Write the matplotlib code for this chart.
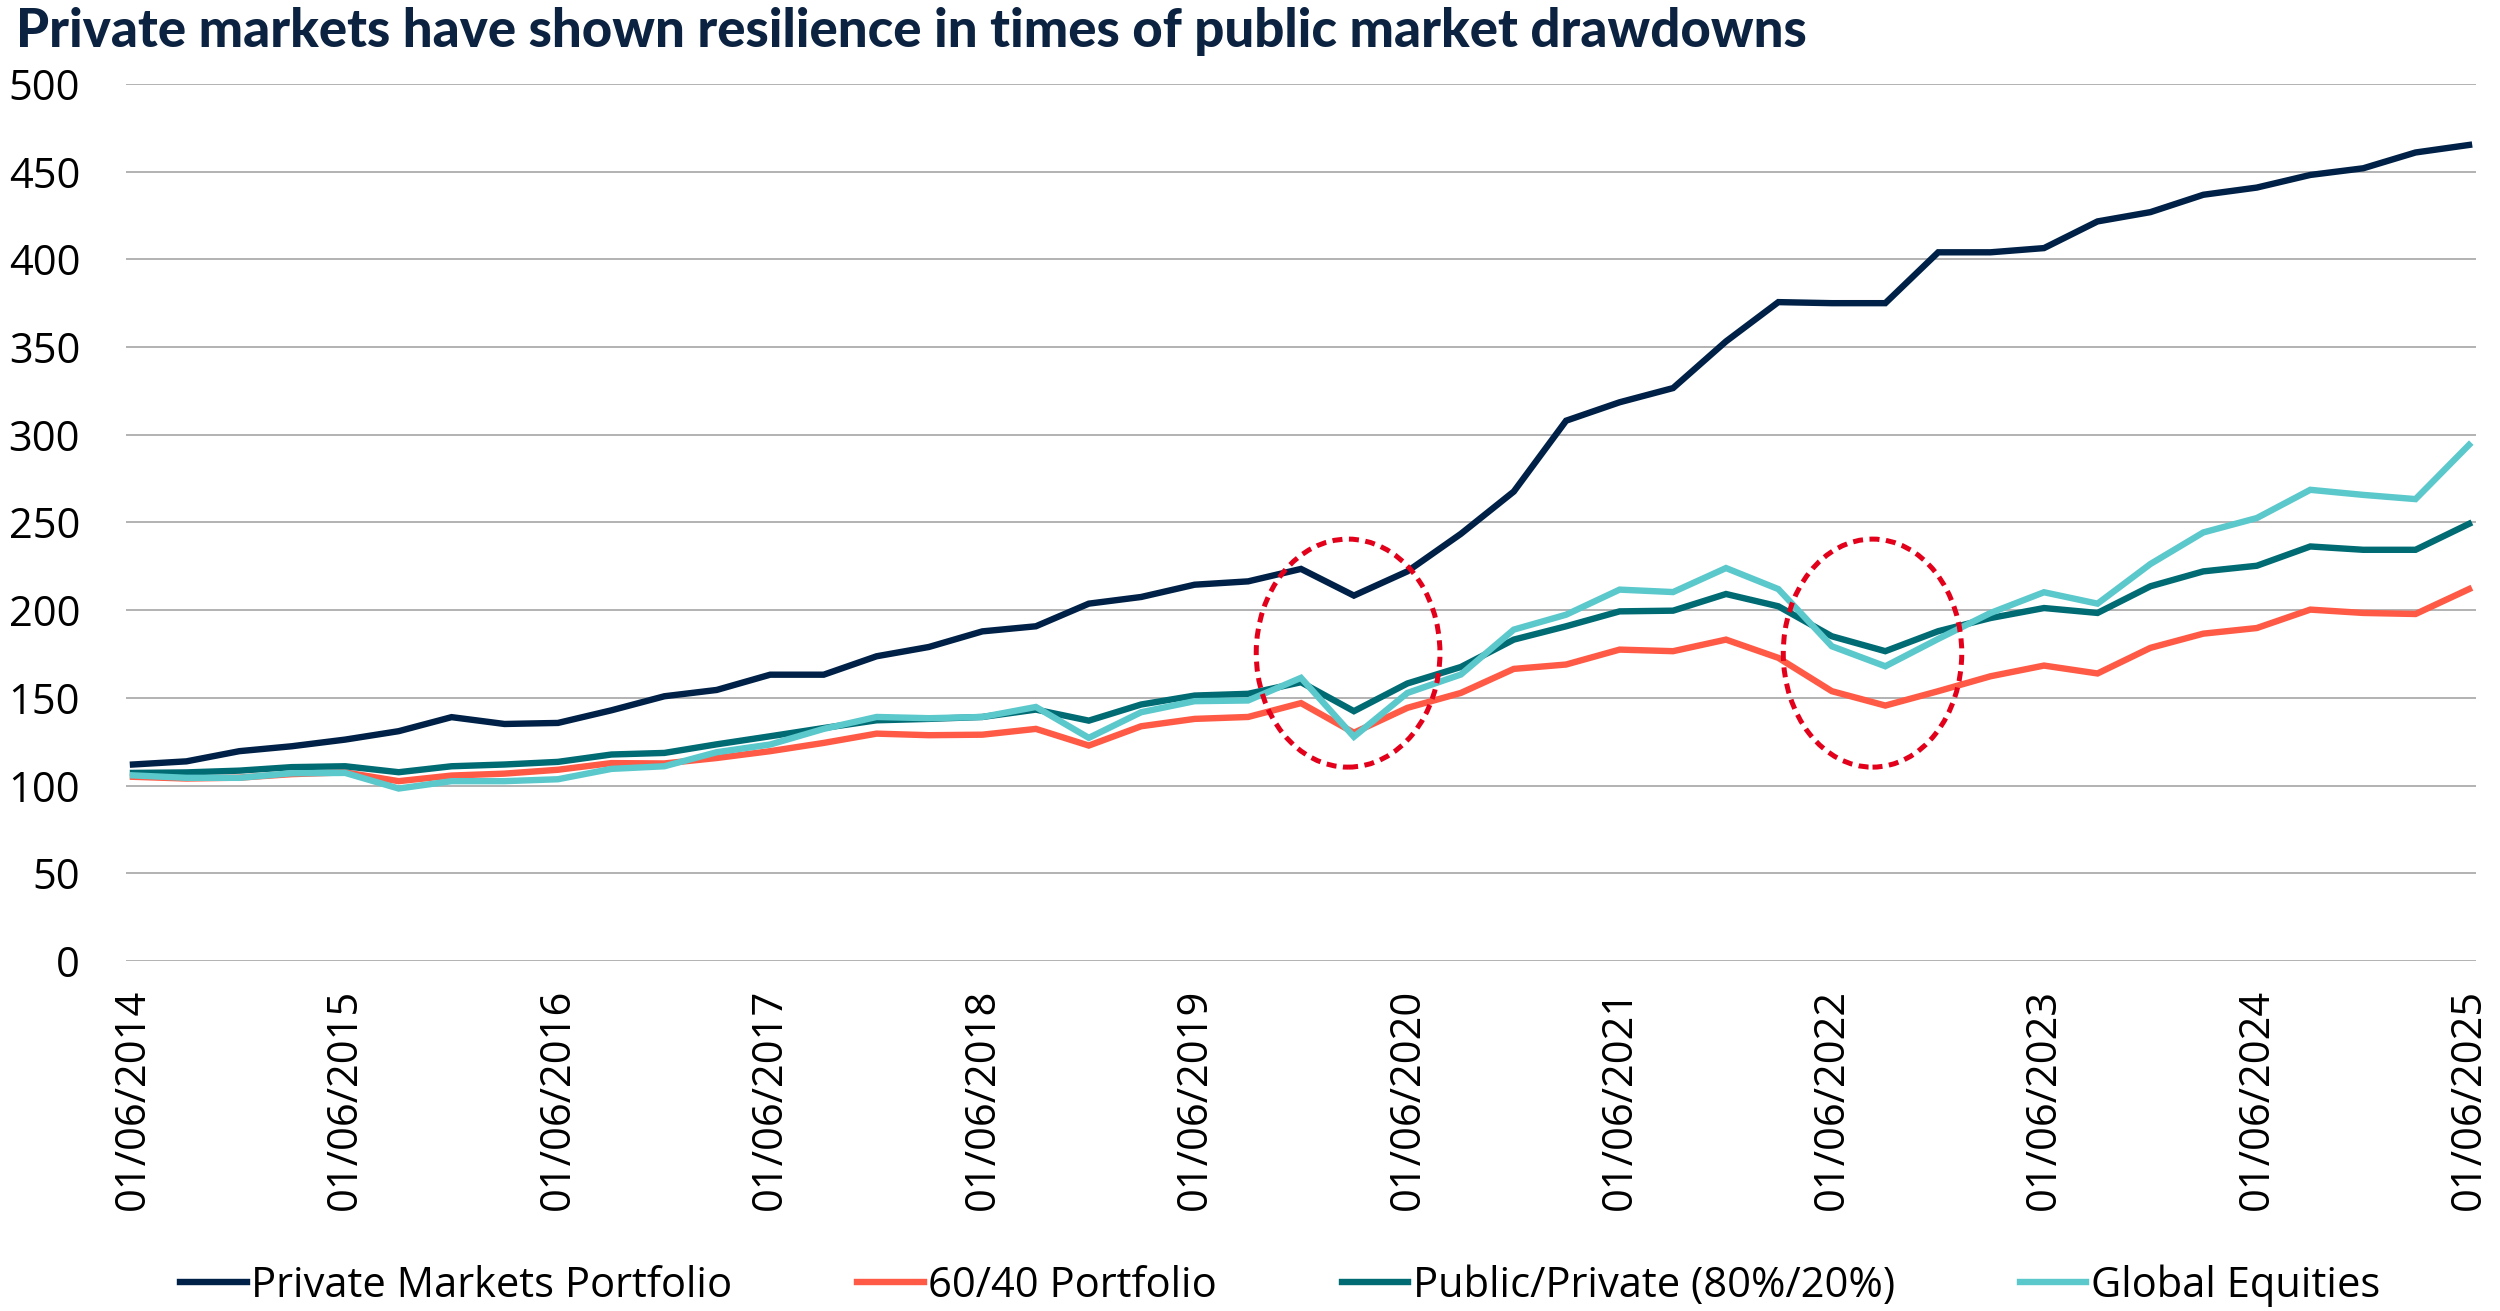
import numpy as np
import pandas as pd
import matplotlib
matplotlib.use('Agg')
from matplotlib import pyplot as plt
from matplotlib.patches import Ellipse
import matplotlib.dates as mdates

# quarterly observations, June 2014 - June 2025
dates = pd.date_range('2014-06-01', '2025-06-01', freq='3MS')

private_markets = [112.0, 113.8, 119.6, 122.4, 126.2, 131.0, 139.0, 135.1, 135.7, 142.9,
                   150.9, 154.5, 163.2, 163.2, 173.7, 179.0, 187.9, 190.8, 203.7, 207.5,
                   214.5, 216.4, 223.5, 208.3, 222.1, 243.5, 267.6, 308.0, 318.5, 326.6,
                   353.2, 375.6, 375.0, 375.0, 404.0, 404.0, 406.4, 421.6, 426.9, 436.8,
                   440.9, 448.1, 451.9, 460.9, 465.2]
sixty_forty = [105.0, 104.0, 104.5, 106.5, 107.5, 102.5, 105.7, 106.8, 109.0, 112.8,
               112.6, 115.7, 119.6, 124.3, 129.6, 128.7, 129.0, 132.3, 122.8, 133.8,
               138.0, 139.1, 147.0, 130.1, 144.3, 152.8, 166.5, 169.0, 177.5, 176.6,
               183.2, 172.8, 153.8, 145.6, 153.8, 162.3, 168.4, 163.9, 178.5, 186.6,
               189.8, 200.3, 198.4, 197.8, 212.0]
public_private = [107.2, 107.5, 108.5, 110.5, 111.0, 107.6, 111.0, 112.0, 113.5, 117.7,
                  118.6, 123.5, 128.1, 132.8, 137.2, 138.0, 139.1, 143.3, 137.0, 146.2,
                  151.3, 152.3, 158.9, 142.4, 158.2, 167.6, 183.2, 190.8, 199.3, 199.7,
                  209.2, 202.2, 185.1, 176.6, 188.0, 195.5, 201.2, 198.4, 213.6, 222.1,
                  225.3, 236.3, 234.4, 234.4, 249.2]
global_equities = [105.8, 104.4, 104.4, 107.0, 107.2, 98.3, 102.5, 102.5, 103.6, 109.5,
                   111.0, 119.0, 123.4, 132.3, 139.1, 138.4, 139.1, 144.8, 127.2, 141.8,
                   148.1, 148.5, 161.4, 127.8, 152.8, 163.3, 188.9, 197.4, 211.7, 210.3,
                   224.0, 212.0, 179.4, 168.0, 183.6, 198.4, 210.2, 203.7, 226.3, 244.3,
                   252.5, 268.6, 265.7, 263.3, 294.2]

series_names = ['Private Markets Portfolio', '60/40 Portfolio',
                'Public/Private (80%/20%)', 'Global Equities']
colors = ['#002147', '#FF5A45', '#006B73', '#5BC8CC']

# drawdown highlights (centre date, centre value, width in days, height)
highlights = [('2020-02-20', 175.5, 316, 130),
              ('2022-08-10', 175.5, 307, 130)]

tick_dates = pd.date_range('2014-06-01', '2025-06-01', freq='12MS')
tick_labels = [d.strftime('%d/%m/%Y') for d in tick_dates]

plt.rcParams['font.family'] = ['Open Sans', 'DejaVu Sans']

fig = plt.figure(figsize=(25, 13.11), dpi=100)
ax = fig.add_axes([0.0504, 0.267, 0.94, 0.669])

for vals, name, c in zip([private_markets, sixty_forty, public_private, global_equities],
                         series_names, colors):
    ax.plot(dates, vals, color=c, lw=4.6, label=name, solid_joinstyle='miter')

for d, yc, w, h in highlights:
    e = Ellipse((mdates.date2num(pd.Timestamp(d)), yc), w, h, fill=False,
                ec='#E2001A', lw=3.6, ls=(0, (2, 1.3)), zorder=5)
    ax.add_patch(e)

ax.set_ylim(0, 500)
ax.set_yticks(np.arange(0, 501, 50))
ax.set_xlim(dates[0] - pd.Timedelta(days=12), dates[-1] + pd.Timedelta(days=12))
ax.set_xticks(tick_dates)
ax.set_xticklabels(tick_labels, rotation=90)
ax.grid(axis='y', color='#A6A6A6', lw=1.2)
ax.set_axisbelow(True)
for s in ax.spines.values():
    s.set_visible(False)
ax.tick_params(axis='both', length=0, labelsize=30, colors='black')
ax.tick_params(axis='y', pad=33)
ax.tick_params(axis='x', pad=20)

fig.text(0.0064, 0.9756, 'Private markets have shown resilience in times of public market drawdowns',
         fontsize=38, fontweight=900, color='#0B2240', va='center', ha='left',
         family=['Lato', 'DejaVu Sans'])

fig.legend(loc='lower center', bbox_to_anchor=(0.512, -0.016), ncol=4, frameon=False,
           fontsize=30, handlelength=1.6, handletextpad=0.1, columnspacing=3.0,
           borderaxespad=0.2)

plt.savefig('out.png', dpi=100)
